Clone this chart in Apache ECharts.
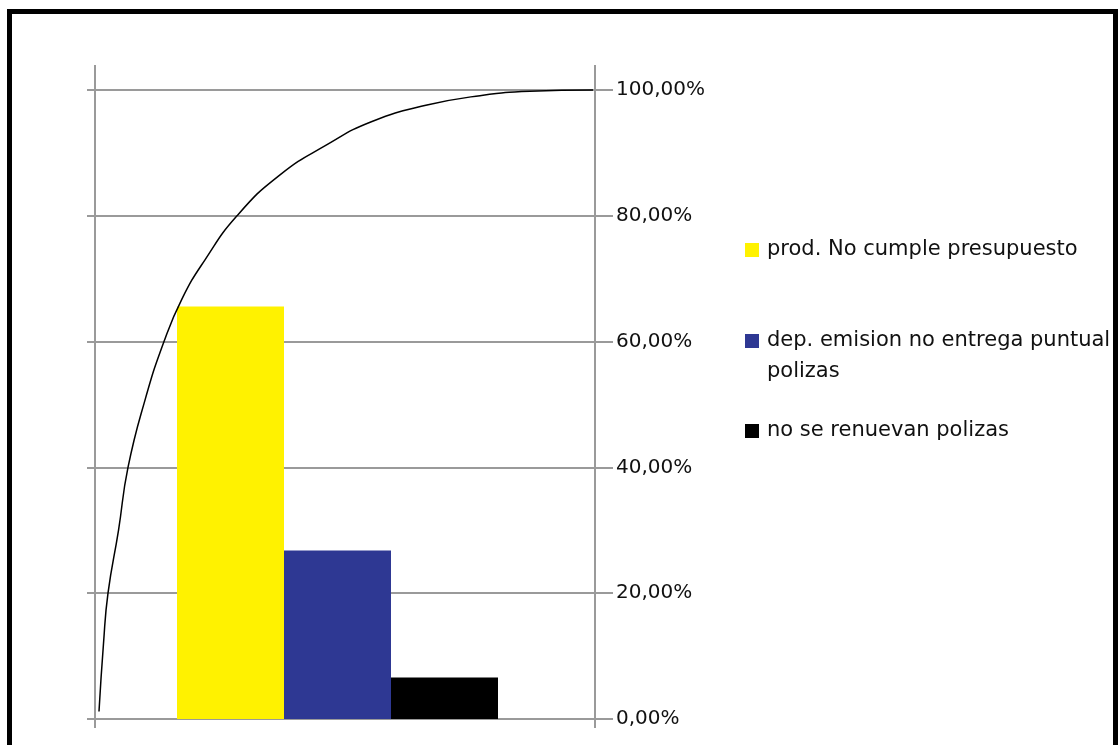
<!DOCTYPE html>
<html>
<head>
<meta charset="utf-8">
<script src="https://cdn.jsdelivr.net/npm/echarts@6/dist/echarts.min.js"></script>
<style>
html,body{margin:0;padding:0;background:#fff;}
#frame{position:absolute;left:7px;top:9px;width:1111px;height:760px;border:5px solid #000;box-sizing:border-box;}
#chart{position:absolute;left:0;top:0;width:1120px;height:745px;}
</style>
</head>
<body>
<div id="frame"></div>
<div id="chart"></div>
<script>
// Data
const categories = [''];
const seriesNames = ['prod. No cumple presupuesto', 'dep. emision no entrega puntual polizas', 'no se renuevan polizas'];
const legendLabels = ['prod. No cumple presupuesto', '\ndep. emision no entrega puntual\npolizas', 'no se renuevan polizas'];
const barValues = [0.656, 0.268, 0.066];
const barColors = ['#FFF200', '#2E3893', '#000000'];
const curveX = [0.008, 0.017, 0.026, 0.047, 0.066, 0.10, 0.138, 0.174, 0.22, 0.284, 0.37, 0.464, 0.554, 0.664, 0.77, 0.87, 0.996];
const curveY = [0.012, 0.12, 0.20, 0.30, 0.40, 0.507, 0.60, 0.668, 0.73, 0.80, 0.865, 0.913, 0.95, 0.976, 0.991, 0.998, 1.0];
const tickValues = [0, 0.2, 0.4, 0.6, 0.8, 1.0];
const tickLabels = ['0,00%', '20,00%', '40,00%', '60,00%', '80,00%', '100,00%'];

const gridColor = '#9a9a9a';
const font = 'DejaVu Sans';

const chart = echarts.init(document.getElementById('chart'));

function labelFor(v) {
  for (let i = 0; i < tickValues.length; i++) {
    if (Math.abs(tickValues[i] - v) < 1e-6) return tickLabels[i];
  }
  return '';
}

const barSeries = seriesNames.map((n, i) => ({
  name: n,
  type: 'bar',
  xAxisIndex: 1,
  yAxisIndex: 2,
  data: [barValues[i]],
  barWidth: 107,
  barGap: '0%',
  itemStyle: { color: barColors[i] },
  z: 2
}));

const legendTops = [238, 294.5, 419];
const legends = seriesNames.map((n, i) => ({
  data: [{ name: n, icon: 'rect' }],
  left: 745,
  top: legendTops[i],
  orient: 'vertical',
  padding: 0,
  itemWidth: 14,
  itemHeight: 14,
  selectedMode: false,
  formatter: () => legendLabels[i],
  textStyle: {
    fontFamily: font,
    fontSize: 21,
    color: '#111',
    lineHeight: i === 1 ? 31 : 24,
    padding: [0, 0, 0, 3]
  }
}));

chart.setOption({
  animation: false,
  backgroundColor: 'transparent',
  legend: legends,
  grid: [
    { left: 95, right: 525, top: 90, bottom: 26 },
    { left: 95, right: 540, top: 90, bottom: 26 },
    { left: 95, right: 525, top: 65, bottom: 17 }
  ],
  xAxis: [
    { gridIndex: 0, type: 'value', min: 0, max: 1, show: false },
    { gridIndex: 1, type: 'category', data: categories, show: false },
    { gridIndex: 2, type: 'value', min: 0, max: 1, interval: 1,
      axisLine: { show: false }, axisTick: { show: false }, axisLabel: { show: false },
      splitLine: { show: true, lineStyle: { color: gridColor, width: 2 } } }
  ],
  yAxis: [
    { gridIndex: 0, type: 'value', min: 0, max: 1, interval: 0.2, position: 'left',
      axisLine: { show: false },
      axisTick: { show: true, length: 8, lineStyle: { color: gridColor, width: 2 } },
      axisLabel: { show: false },
      splitLine: { show: true, lineStyle: { color: gridColor, width: 2 } } },
    { gridIndex: 0, type: 'value', min: 0, max: 1, interval: 0.2, position: 'right',
      axisLine: { show: false },
      axisTick: { show: true, length: 18, lineStyle: { color: gridColor, width: 2 } },
      axisLabel: { show: true, margin: 21, formatter: labelFor,
        fontFamily: font, fontSize: 20, color: '#111' },
      splitLine: { show: false } },
    { gridIndex: 1, type: 'value', min: 0, max: 1, show: false, splitLine: { show: false } },
    { gridIndex: 2, type: 'value', min: 0, max: 1, show: false, splitLine: { show: false } }
  ],
  series: barSeries.concat([{
    name: 'acumulado',
    type: 'line',
    xAxisIndex: 0,
    yAxisIndex: 0,
    data: curveX.map((x, i) => [x, curveY[i]]),
    smooth: 0.5,
    showSymbol: false,
    symbol: 'none',
    clip: false,
    lineStyle: { color: '#000', width: 1.5 },
    z: 5
  }])
});
</script>
</body>
</html>
